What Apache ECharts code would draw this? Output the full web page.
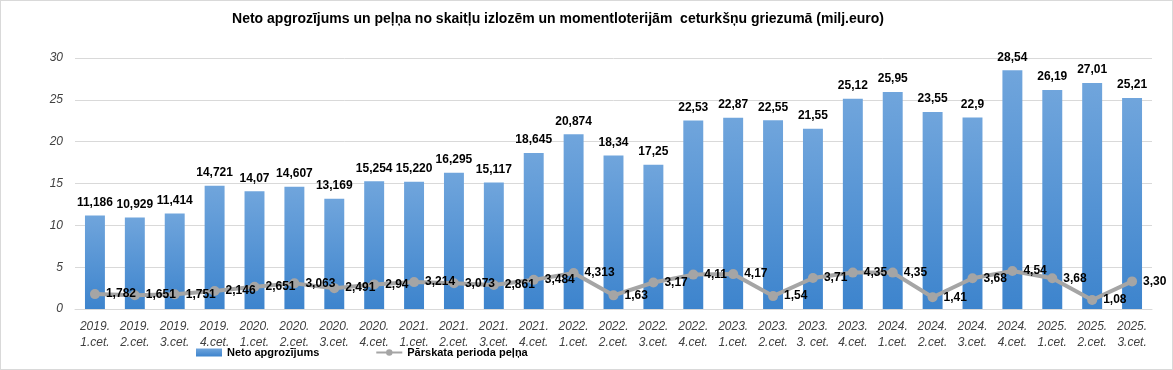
<!DOCTYPE html>
<html><head><meta charset="utf-8">
<script src="https://cdn.jsdelivr.net/npm/echarts@6/dist/echarts.min.js"></script>
<style>
html,body{margin:0;padding:0;background:#fff;}
#c{width:1173px;height:370px;box-sizing:border-box;border:1px solid #d9d9d9;}
</style></head>
<body><div id="c"></div>
<script>
const categories = ['2019.\n1.cet.','2019.\n2.cet.','2019.\n3.cet.','2019.\n4.cet.',
'2020.\n1.cet.','2020.\n2.cet.','2020.\n3.cet.','2020.\n4.cet.',
'2021.\n1.cet.','2021.\n2.cet.','2021.\n3.cet.','2021.\n4.cet.',
'2022.\n1.cet.','2022.\n2.cet.','2022.\n3.cet.','2022.\n4.cet.',
'2023.\n1.cet.','2023.\n2.cet.','2023.\n3. cet.','2023.\n4.cet.',
'2024.\n1.cet.','2024.\n2.cet.','2024.\n3.cet.','2024.\n4.cet.',
'2025.\n1.cet.','2025.\n2.cet.','2025.\n3.cet.'];
const revenueLabels = ['11,186','10,929','11,414','14,721','14,07','14,607','13,169','15,254',
'15,220','16,295','15,117','18,645','20,874','18,34','17,25','22,53','22,87','22,55','21,55',
'25,12','25,95','23,55','22,9','28,54','26,19','27,01','25,21'];
const profitLabels = ['1,782','1,651','1,751','2,146','2,651','3,063','2,491','2,94',
'3,214','3,073','2,861','3,484','4,313','1,63','3,17','4,11','4,17','1,54','3,71',
'4,35','4,35','1,41','3,68','4,54','3,68','1,08','3,30'];
const yTicks = {min:0, max:30, interval:5};
const titleText = 'Neto apgrozījums un peļņa no skaitļu izlozēm un momentloterijām  ceturkšņu griezumā (milj.euro)';
const seriesNames = ['Neto apgrozījums','Pārskata perioda peļņa'];

const toNum = s => parseFloat(s.replace(',', '.'));
const revenue = revenueLabels.map(toNum);
const profit = profitLabels.map(toNum);

const chart = echarts.init(document.getElementById('c'), null, {renderer:'canvas'});
const FONT = '"Liberation Sans", Arial, sans-serif';
chart.setOption({
  animation:false,
  textStyle:{fontFamily:FONT},
  title:{text:titleText, left:552, top:6, textAlign:'center',
    textStyle:{fontSize:14, fontWeight:'bold', color:'#000', fontFamily:FONT}},
  legend:{bottom:6, left:190, itemGap:56, itemWidth:26, itemHeight:8,
    textStyle:{fontSize:11, fontWeight:'bold', color:'#000'},
    data:[{name:seriesNames[0], icon:'rect'},{name:seriesNames[1]}]},
  grid:{left:74, right:20, top:57, bottom:60},
  xAxis:{type:'category', data:categories,
    axisLine:{lineStyle:{color:'#d9d9d9'}}, axisTick:{show:false},
    axisLabel:{interval:0, fontStyle:'italic', fontSize:12, color:'#404040', lineHeight:16, margin:10}},
  yAxis:{type:'value', min:yTicks.min, max:yTicks.max, interval:yTicks.interval,
    axisLine:{show:false}, axisTick:{show:false},
    splitLine:{lineStyle:{color:'#d9d9d9'}},
    axisLabel:{fontStyle:'italic', fontSize:12, color:'#404040', margin:12}},
  series:[
    {name:seriesNames[0], type:'bar', data:revenue, barWidth:'50%',
     itemStyle:{color:new echarts.graphic.LinearGradient(0,0,0,1,[{offset:0,color:'#70a5dc'},{offset:1,color:'#3d84cd'}])},
     label:{show:true, position:'top', distance:7, fontSize:12, fontWeight:'bold', color:'#000',
       formatter:p=>revenueLabels[p.dataIndex]}},
    {name:seriesNames[1], type:'line', data:profit, symbol:'circle', symbolSize:10,
     lineStyle:{color:'#a5a5a5', width:4}, itemStyle:{color:'#a5a5a5'},
     label:{show:true, position:'right', distance:6, fontSize:12, fontWeight:'bold', color:'#000',
       formatter:p=>profitLabels[p.dataIndex]}}
  ]
});
</script></body></html>
